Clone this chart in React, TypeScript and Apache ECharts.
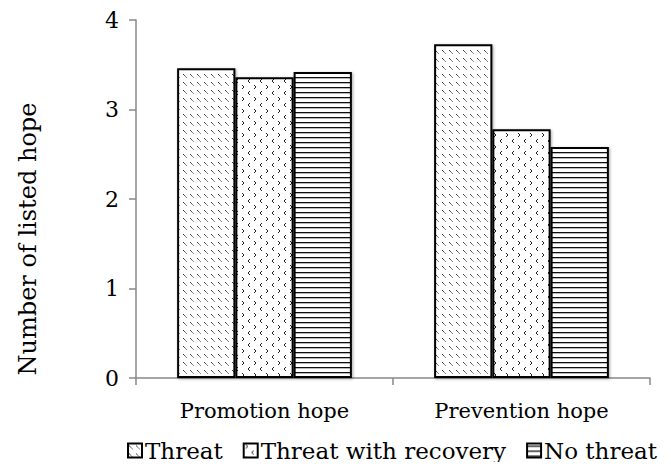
import React, { useEffect, useRef } from "react";
import * as echarts from "echarts";

const categories = ["Promotion hope", "Prevention hope"];
const seriesNames = ["Threat", "Threat with recovery", "No threat"];
const threatValues = [3.46, 3.73];
const recoveryValues = [3.36, 2.78];
const noThreatValues = [3.42, 2.58];
const yTicks = [0, 1, 2, 3, 4];
const yTitle = "Number of listed hope";

const svgUrl = (s: string) => "data:image/svg+xml;utf8," + encodeURIComponent(s);

const threatSvg = svgUrl(
  '<svg xmlns="http://www.w3.org/2000/svg" width="7" height="8"><rect width="7" height="8" fill="#fff"/><line x1="1" y1="2" x2="5" y2="6" stroke="#111" stroke-width="1" stroke-dasharray="1.2,0.6"/></svg>'
);
const recoverySvg = svgUrl(
  '<svg xmlns="http://www.w3.org/2000/svg" width="12" height="12"><rect width="12" height="12" fill="#fff"/><polyline points="2,1 4,3 2,5" fill="none" stroke="#222" stroke-width="1"/><polyline points="10,7 8,9 10,11" fill="none" stroke="#222" stroke-width="1"/></svg>'
);
const noThreatSvg = svgUrl(
  '<svg xmlns="http://www.w3.org/2000/svg" width="4" height="5"><rect width="4" height="5" fill="#fff"/><rect x="0" y="2" width="4" height="1.3" fill="#111"/></svg>'
);

const pattern = (src: string, w: number, h: number) => ({
  image: src,
  repeat: "repeat",
  imageWidth: w,
  imageHeight: h,
});

const FONT = "DejaVu Serif";

export default function App() {
  const ref = useRef<HTMLDivElement>(null);
  useEffect(() => {
    if (!ref.current) return;
    const chart = echarts.init(ref.current, null, { renderer: "svg" });
    const itemStyleFor = (src: string, w: number, h: number) => ({
      color: pattern(src, w, h) as any,
      borderColor: "#000",
      borderWidth: 2,
      shadowBlur: 3,
      shadowColor: "rgba(0,0,0,0.35)",
      shadowOffsetX: 1,
      shadowOffsetY: 1,
    });
    const values = [threatValues, recoveryValues, noThreatValues];
    const pats: [string, number, number][] = [
      [threatSvg, 7, 8],
      [recoverySvg, 12, 12],
      [noThreatSvg, 4, 5],
    ];
    chart.setOption({
      animation: false,
      backgroundColor: "#fff",
      textStyle: { fontFamily: FONT, color: "#000" },
      grid: { left: 136, right: 21, top: 20, bottom: 92 },
      graphic: [
        {
          type: "text",
          x: 28,
          y: 239,
          rotation: Math.PI / 2,
          style: {
            text: yTitle,
            font: "24px DejaVu Serif",
            fill: "#000",
            align: "center",
            verticalAlign: "middle",
          },
        },
      ],
      legend: {
        data: seriesNames,
        left: 122,
        top: 434,
        icon: "rect",
        itemWidth: 14,
        itemHeight: 14,
        itemGap: 20,
        textStyle: { fontFamily: FONT, fontSize: 23, color: "#000", padding: [0, 0, 0, -2] },
      },
      xAxis: {
        type: "category",
        data: categories,
        axisLine: { lineStyle: { color: "#888", width: 1.5 } },
        axisTick: { show: true, length: 7, lineStyle: { color: "#888", width: 1.5 } },
        axisLabel: { fontFamily: FONT, fontSize: 21, color: "#000", margin: 22 },
      },
      yAxis: {
        type: "value",
        min: 0,
        max: 4,
        interval: 1,
        axisLine: { show: true, lineStyle: { color: "#888", width: 1.5 } },
        axisTick: { show: true, length: 7, lineStyle: { color: "#888", width: 1.5 } },
        splitLine: { show: false },
        axisLabel: {
          fontFamily: FONT,
          fontSize: 22,
          color: "#000",
          margin: 17,
          formatter: (v: number) => (yTicks.includes(v) ? String(v) : ""),
        },
      },
      series: seriesNames.map((name, i) => ({
        name,
        type: "bar",
        data: values[i],
        barGap: "0%",
        barCategoryGap: "32%",
        itemStyle: itemStyleFor(pats[i][0], pats[i][1], pats[i][2]),
      })),
    });
    return () => chart.dispose();
  }, []);
  return <div ref={ref} style={{ width: 671, height: 470, margin: -8 }} />;
}
